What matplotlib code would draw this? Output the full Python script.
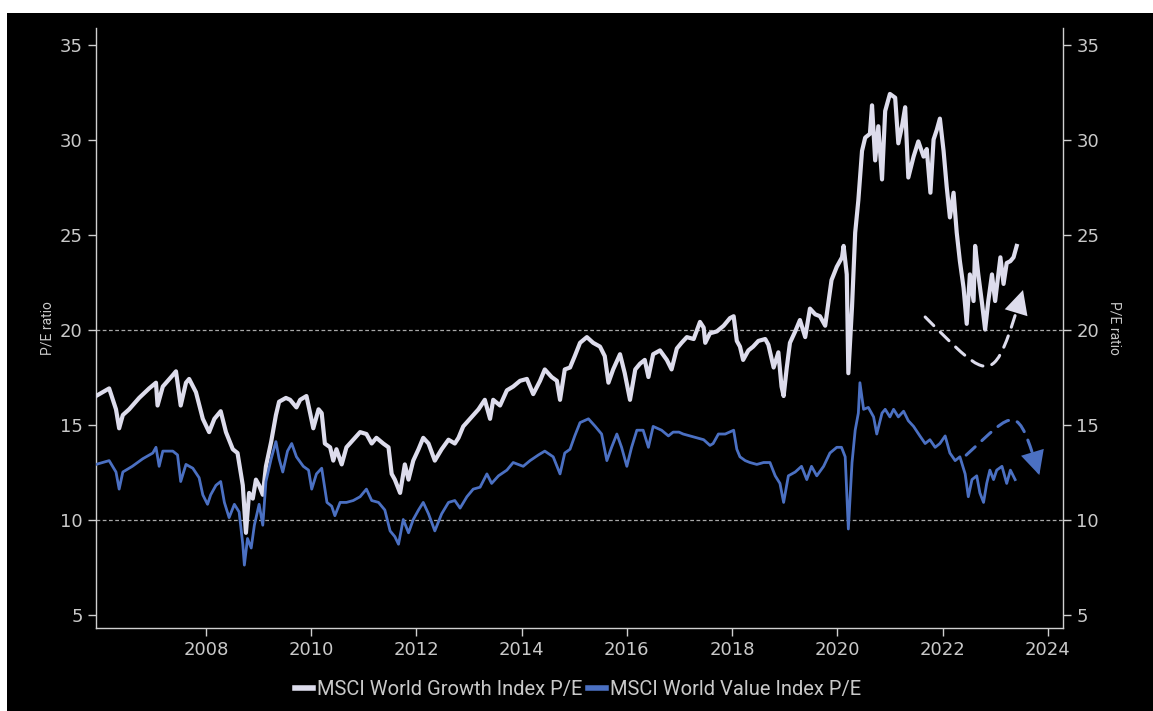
import matplotlib.pyplot as plt
from matplotlib.patches import Rectangle, FancyArrowPatch
from matplotlib.path import Path

# P/E ratios, MSCI World Growth vs Value (decimal years)
growth_t = [2005.91, 2006.16, 2006.29, 2006.35, 2006.42, 2006.54, 2006.73, 2006.92, 2007.05, 2007.08,
            2007.18, 2007.37, 2007.43, 2007.52, 2007.62, 2007.68, 2007.81, 2007.94, 2008.06, 2008.16,
            2008.28, 2008.38, 2008.51, 2008.60, 2008.70, 2008.76, 2008.82, 2008.89, 2008.95, 2009.01,
            2009.08, 2009.14, 2009.24, 2009.33, 2009.39, 2009.52, 2009.60, 2009.72, 2009.79, 2009.91,
            2009.98, 2010.04, 2010.14, 2010.20, 2010.26, 2010.36, 2010.42, 2010.48, 2010.58, 2010.67,
            2010.80, 2010.93, 2011.05, 2011.15, 2011.24, 2011.37, 2011.47, 2011.53, 2011.59, 2011.69,
            2011.78, 2011.85, 2011.94, 2012.04, 2012.13, 2012.23, 2012.35, 2012.48, 2012.61, 2012.73,
            2012.80, 2012.89, 2013.05, 2013.18, 2013.30, 2013.40, 2013.46, 2013.59, 2013.72, 2013.84,
            2013.97, 2014.10, 2014.22, 2014.35, 2014.44, 2014.57, 2014.67, 2014.73, 2014.82, 2014.92,
            2015.01, 2015.11, 2015.24, 2015.36, 2015.49, 2015.58, 2015.65, 2015.74, 2015.87, 2015.96,
            2016.06, 2016.16, 2016.25, 2016.34, 2016.41, 2016.50, 2016.63, 2016.76, 2016.85, 2016.95,
            2017.04, 2017.14, 2017.27, 2017.39, 2017.46, 2017.49, 2017.58, 2017.71, 2017.84, 2017.96,
            2018.03, 2018.09, 2018.15, 2018.21, 2018.31, 2018.40, 2018.50, 2018.63, 2018.69, 2018.79,
            2018.88, 2018.94, 2018.98, 2019.04, 2019.10, 2019.20, 2019.29, 2019.39, 2019.48, 2019.58,
            2019.67, 2019.77, 2019.89, 2019.99, 2020.09, 2020.12, 2020.18, 2020.21, 2020.28, 2020.34,
            2020.40, 2020.47, 2020.53, 2020.62, 2020.66, 2020.72, 2020.78, 2020.85, 2020.91, 2021.00,
            2021.10, 2021.16, 2021.23, 2021.29, 2021.35, 2021.45, 2021.54, 2021.64, 2021.70, 2021.77,
            2021.83, 2021.89, 2021.95, 2022.02, 2022.08, 2022.14, 2022.21, 2022.27, 2022.33, 2022.40,
            2022.46, 2022.52, 2022.59, 2022.62, 2022.68, 2022.75, 2022.81, 2022.87, 2022.94, 2023.00,
            2023.10, 2023.16, 2023.22, 2023.29, 2023.35, 2023.41]
growth_pe = [16.5, 16.9, 15.8, 14.8, 15.5, 15.8, 16.4, 16.9, 17.2, 16.0,
             17.0, 17.6, 17.8, 16.0, 17.2, 17.4, 16.7, 15.3, 14.6, 15.3,
             15.7, 14.6, 13.7, 13.5, 11.8, 9.3, 11.4, 11.1, 12.1, 11.8,
             11.3, 12.8, 14.1, 15.5, 16.2, 16.4, 16.3, 15.9, 16.3, 16.5,
             15.6, 14.8, 15.8, 15.6, 14.0, 13.8, 13.1, 13.7, 12.9, 13.8,
             14.2, 14.6, 14.5, 14.0, 14.3, 14.0, 13.8, 12.4, 12.1, 11.4,
             12.9, 12.1, 13.1, 13.7, 14.3, 14.0, 13.1, 13.7, 14.2, 14.0,
             14.3, 14.9, 15.4, 15.8, 16.3, 15.3, 16.3, 16.0, 16.8, 17.0,
             17.3, 17.4, 16.6, 17.3, 17.9, 17.5, 17.3, 16.3, 17.9, 18.0,
             18.6, 19.3, 19.6, 19.3, 19.1, 18.6, 17.2, 17.9, 18.7, 17.7,
             16.3, 17.9, 18.2, 18.4, 17.5, 18.7, 18.9, 18.4, 17.9, 19.0,
             19.3, 19.6, 19.5, 20.4, 20.1, 19.3, 19.8, 19.9, 20.2, 20.6,
             20.7, 19.4, 19.1, 18.4, 18.9, 19.1, 19.4, 19.5, 19.2, 18.0,
             18.8, 17.0, 16.5, 18.0, 19.3, 19.9, 20.5, 19.6, 21.1, 20.8,
             20.7, 20.2, 22.6, 23.3, 23.8, 24.4, 22.9, 17.7, 21.2, 25.1,
             26.8, 29.4, 30.1, 30.3, 31.8, 28.9, 30.7, 27.9, 31.5, 32.4,
             32.2, 29.8, 30.7, 31.7, 28.0, 29.1, 29.9, 29.1, 29.5, 27.2,
             30.0, 30.5, 31.1, 29.4, 27.5, 25.9, 27.2, 25.1, 23.6, 22.2,
             20.3, 22.9, 21.5, 24.4, 22.9, 21.4, 20.0, 21.5, 22.9, 21.5,
             23.8, 22.4, 23.5, 23.6, 23.8, 24.4]

value_t = [2005.91, 2006.16, 2006.29, 2006.35, 2006.42, 2006.60, 2006.80, 2006.99, 2007.05, 2007.11,
           2007.18, 2007.37, 2007.46, 2007.52, 2007.62, 2007.75, 2007.87, 2007.94, 2008.03, 2008.09,
           2008.19, 2008.28, 2008.35, 2008.44, 2008.54, 2008.63, 2008.70, 2008.73, 2008.79, 2008.86,
           2008.92, 2009.01, 2009.08, 2009.14, 2009.24, 2009.33, 2009.39, 2009.46, 2009.55, 2009.63,
           2009.72, 2009.85, 2009.95, 2010.01, 2010.10, 2010.20, 2010.30, 2010.39, 2010.45, 2010.55,
           2010.67, 2010.80, 2010.93, 2011.05, 2011.15, 2011.28, 2011.40, 2011.50, 2011.59, 2011.66,
           2011.75, 2011.85, 2011.94, 2012.04, 2012.13, 2012.23, 2012.35, 2012.48, 2012.61, 2012.73,
           2012.83, 2012.96, 2013.08, 2013.21, 2013.34, 2013.43, 2013.56, 2013.72, 2013.84, 2014.03,
           2014.16, 2014.32, 2014.44, 2014.60, 2014.73, 2014.82, 2014.92, 2015.01, 2015.11, 2015.27,
           2015.40, 2015.52, 2015.62, 2015.71, 2015.81, 2015.90, 2016.00, 2016.09, 2016.19, 2016.31,
           2016.41, 2016.50, 2016.66, 2016.79, 2016.88, 2016.99, 2017.07, 2017.20, 2017.33, 2017.46,
           2017.58, 2017.64, 2017.74, 2017.87, 2018.03, 2018.09, 2018.15, 2018.25, 2018.34, 2018.47,
           2018.60, 2018.72, 2018.82, 2018.91, 2018.98, 2019.07, 2019.20, 2019.32, 2019.42, 2019.51,
           2019.61, 2019.74, 2019.86, 2019.99, 2020.08, 2020.15, 2020.21, 2020.28, 2020.34, 2020.40,
           2020.43, 2020.50, 2020.59, 2020.69, 2020.75, 2020.85, 2020.91, 2021.00, 2021.07, 2021.16,
           2021.26, 2021.35, 2021.45, 2021.57, 2021.67, 2021.76, 2021.86, 2021.95, 2022.05, 2022.14,
           2022.24, 2022.33, 2022.43, 2022.49, 2022.56, 2022.65, 2022.71, 2022.78, 2022.84, 2022.90,
           2022.97, 2023.03, 2023.13, 2023.22, 2023.29, 2023.38]
value_pe = [12.9, 13.1, 12.5, 11.6, 12.5, 12.8, 13.2, 13.5, 13.8, 12.8,
            13.6, 13.6, 13.4, 12.0, 12.9, 12.7, 12.2, 11.3, 10.8, 11.3,
            11.8, 12.0, 10.9, 10.1, 10.8, 10.4, 8.7, 7.6, 9.0, 8.5,
            9.7, 10.8, 9.7, 12.0, 13.2, 14.1, 13.2, 12.5, 13.6, 14.0,
            13.3, 12.8, 12.6, 11.6, 12.4, 12.7, 10.9, 10.7, 10.2, 10.9,
            10.9, 11.0, 11.2, 11.6, 11.0, 10.9, 10.5, 9.4, 9.1, 8.7,
            10.0, 9.3, 10.0, 10.5, 10.9, 10.3, 9.4, 10.3, 10.9, 11.0,
            10.6, 11.2, 11.6, 11.7, 12.4, 11.9, 12.3, 12.6, 13.0, 12.8,
            13.1, 13.4, 13.6, 13.3, 12.4, 13.5, 13.7, 14.4, 15.1, 15.3,
            14.9, 14.5, 13.1, 13.8, 14.5, 13.8, 12.8, 13.8, 14.7, 14.7,
            13.8, 14.9, 14.7, 14.4, 14.6, 14.6, 14.5, 14.4, 14.3, 14.2,
            13.9, 14.0, 14.5, 14.5, 14.7, 13.7, 13.3, 13.1, 13.0, 12.9,
            13.0, 13.0, 12.3, 11.9, 10.9, 12.3, 12.5, 12.8, 12.1, 12.8,
            12.3, 12.8, 13.5, 13.8, 13.8, 13.3, 9.5, 13.0, 14.7, 15.6,
            17.2, 15.8, 15.9, 15.4, 14.5, 15.6, 15.8, 15.4, 15.8, 15.4,
            15.7, 15.2, 14.9, 14.4, 14.0, 14.2, 13.8, 14.0, 14.4, 13.5,
            13.1, 13.3, 12.4, 11.2, 12.1, 12.3, 11.4, 10.9, 11.9, 12.6,
            12.1, 12.6, 12.8, 11.9, 12.6, 12.1]

# dashed hint arrows: cubic bezier vertices (start, ctrl1, ctrl2, tip)
growth_arrow = [(2021.67, 20.66), (2022.96, 17.08), (2022.96, 16.89), (2023.53, 22.08)]
value_arrow = [(2022.45, 13.39), (2023.40, 15.80), (2023.41, 16.26), (2023.84, 12.34)]

growth_color = '#dddcec'
value_color = '#4b70c2'
text_color = '#c9c9c9'

fig = plt.figure(figsize=(11.53, 7.11), dpi=100, facecolor='white')
fig.patches.append(Rectangle((7 / 1153, 0), 1, 1 - 13 / 711, transform=fig.transFigure,
                             facecolor='black', edgecolor='none', zorder=-10))

ax = fig.add_axes([96 / 1153, 1 - 628 / 711, (1063 - 96) / 1153, (628 - 28) / 711])
ax.set_facecolor('black')

ax.axhline(20, color='#a8a8a8', lw=0.9, ls=(0, (3, 2)), zorder=1)
ax.axhline(10, color='#a8a8a8', lw=0.9, ls=(0, (3, 2)), zorder=1)

ax.plot(growth_t, growth_pe, color=growth_color, lw=3.0, label='MSCI World Growth Index P/E', zorder=3)
ax.plot(value_t, value_pe, color=value_color, lw=2.0, label='MSCI World Value Index P/E', zorder=3)

codes = [Path.MOVETO, Path.CURVE4, Path.CURVE4, Path.CURVE4]
for verts, col in [(growth_arrow, growth_color), (value_arrow, value_color)]:
    ax.add_patch(FancyArrowPatch(path=Path(verts, codes), arrowstyle='-', color=col,
                                 lw=2.2, ls=(0, (4, 3)), zorder=4))
    ax.annotate('', xy=verts[3], xytext=verts[2],
                arrowprops=dict(arrowstyle='-|>,head_length=0.9,head_width=0.45', color=col,
                                lw=0, shrinkA=0, shrinkB=0, mutation_scale=19))

ax.set_xlim(2005.91, 2024.29)
ax.set_ylim(4.29, 35.87)
ax.set_xticks(range(2008, 2025, 2))
ax.set_yticks(range(5, 36, 5))

ax2 = ax.twinx()
ax2.set_ylim(ax.get_ylim())
ax2.set_yticks(range(5, 36, 5))

for a in (ax, ax2):
    for s in a.spines.values():
        s.set_visible(False)
    a.tick_params(colors='#d0d0d0', labelcolor=text_color, labelsize=13, length=6, width=1)
ax.spines['left'].set_visible(True)
ax.spines['bottom'].set_visible(True)
ax2.spines['right'].set_visible(True)
for s in (ax.spines['left'], ax.spines['bottom'], ax2.spines['right']):
    s.set_color('#d0d0d0')
    s.set_linewidth(1)

ax.set_ylabel('P/E ratio', color=text_color, fontsize=10, family='Roboto', labelpad=4)
ax2.set_ylabel('P/E ratio', color=text_color, fontsize=10, family='Roboto', rotation=270, labelpad=16)

leg = fig.legend(loc='center', bbox_to_anchor=(578 / 1153, 1 - 690 / 711), ncol=2, frameon=False,
                 handlelength=0.9, handletextpad=0.2, columnspacing=0.3,
                 prop={'family': 'Roboto', 'size': 14.5})
for t in leg.get_texts():
    t.set_color(text_color)
for h in leg.legend_handles:
    h.set_linewidth(4)

fig.savefig('out.png', dpi=100, facecolor=fig.get_facecolor())
